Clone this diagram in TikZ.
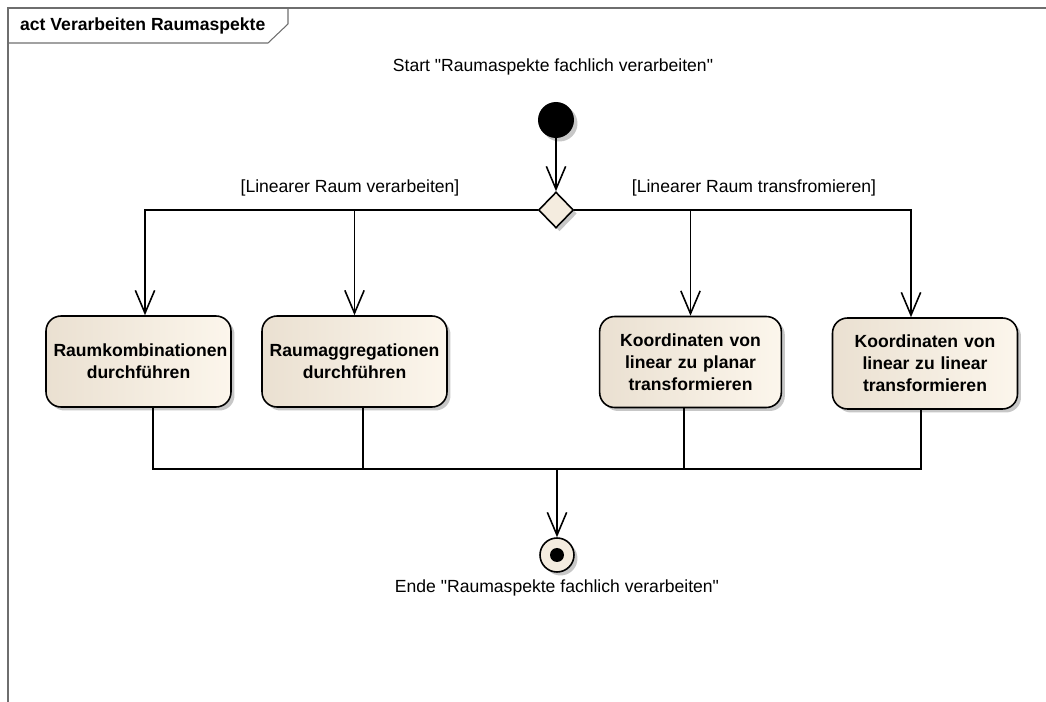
\documentclass[tikz,border=0pt]{standalone}
\usepackage{fontspec}
\setmainfont{Liberation Sans}
\usetikzlibrary{arrows.meta,shapes.geometric,shadows}

\definecolor{actleft}{HTML}{EAE0D1}
\definecolor{actright}{HTML}{FCF6EC}
\definecolor{nodefill}{HTML}{F4ECDF}
\definecolor{framegray}{HTML}{6E6E6E}

\tikzset{
  shade/.style={drop shadow={shadow xshift=0.07cm, shadow yshift=-0.07cm, fill=black!22, opacity=1}},
  action/.style={draw, line width=0.9pt, rounded corners=0.3cm, shade,
    left color=actleft, right color=actright,
    minimum width=3.7cm, minimum height=1.82cm, text width=3.4cm, align=center,
    font=\fontsize{10}{12.5}\selectfont\bfseries},
  flow/.style={line width=0.9pt, -{Straight Barb[length=13pt,width=11pt,line width=0.9pt]}},
  wire/.style={line width=0.9pt},
  label/.style={font=\fontsize{10}{12}\selectfont},
}

\begin{document}
\begin{tikzpicture}[x=0.02cm,y=-0.02cm]

    \useasboundingbox (0,0) rectangle (1046,702);

    % Frame with title tab
    \draw[framegray, line width=0.6pt] (8,702) -- (8,8) -- (1046,8);
    \draw[framegray, line width=0.6pt] (8,43) -- (268,43) -- (288,24) -- (288,8);
    \node[anchor=west, font=\fontsize{10}{12}\selectfont\bfseries] (title) at (14,26) {act Verarbeiten Raumaspekte};

    % Start and decision
    \node[label] (startlbl) at (553,67) {Start \textquotedbl Raumaspekte fachlich verarbeiten\textquotedbl};
    \node[circle, fill=black, minimum size=0.72cm, inner sep=0pt, shade] (start) at (556,120) {};
    \node[diamond, draw, line width=0.9pt, fill=nodefill, minimum width=0.7cm, minimum height=0.72cm, inner sep=0pt, shade] (dec) at (556,210) {};

    % Guards
    \node[label] (guardL) at (350,188) {[Linearer Raum verarbeiten]};
    \node[label] (guardR) at (754,188) {[Linearer Raum transfromieren]};

    % Actions
    \node[action] (kombi) at (138.5,361.5) {Raumkombinationen durchführen};
    \node[action] (aggr) at (354.5,361.5) {Raumaggregationen durchführen};
    \node[action, minimum width=3.5cm] (planar) at (690.5,362) {Koordinaten von linear zu planar transformieren};
    \node[action] (linear) at (925,363.5) {Koordinaten von linear zu linear transformieren};

    % End
    \node[circle, draw, line width=0.9pt, fill=nodefill, minimum size=0.68cm, inner sep=0pt, shade] (final) at (557,555) {};
    \fill (final) circle [radius=0.14cm];
    \node[label] (endlbl) at (557,588) {Ende \textquotedbl Raumaspekte fachlich verarbeiten\textquotedbl};

    \coordinate (bar) at (557,469);

    % Control flow
    \draw[flow] (start) -- (dec);
    \draw[flow] (dec.west) -| ([xshift=0.13cm]kombi.north);
    \draw[flow] (dec.west) -| (aggr.north);
    \draw[flow] (dec.east) -| (planar.north);
    \draw[flow] (dec.east) -| ([xshift=-0.28cm]linear.north);

    \draw[wire] ([xshift=0.29cm]kombi.south) |- (bar);
    \draw[wire] ([xshift=0.17cm]aggr.south) |- (bar);
    \draw[wire] ([xshift=-0.13cm]planar.south) |- (bar);
    \draw[wire] ([xshift=-0.08cm]linear.south) |- (bar);
    \draw[flow, line width=1.3pt] (bar) -- (final);

\end{tikzpicture}
\end{document}
